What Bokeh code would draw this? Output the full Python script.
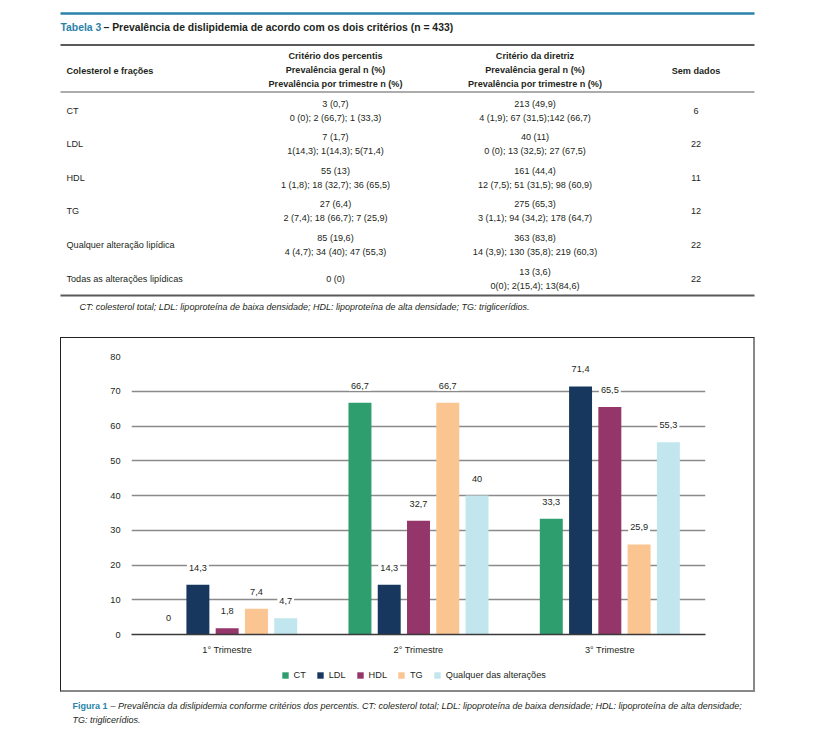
from bokeh.plotting import figure
from bokeh.models import Range1d, FactorRange, ColumnDataSource, Legend, LegendItem, Spacer
from bokeh.layouts import column, row
from bokeh.transform import dodge
from bokeh.core.properties import value
from bokeh.embed import file_html
from bokeh.resources import INLINE

FONT = "Liberation Sans"
INK = "#231f20"
TEAL = "#2a82aa"
BODY = "9.1px"

# ---------------- chart data ----------------
trimestres = ["1° Trimestre", "2° Trimestre", "3° Trimestre"]
series = ["CT", "LDL", "HDL", "TG", "Qualquer das alterações"]
ct = [0, 66.7, 33.3]
ldl = [14.3, 14.3, 71.4]
hdl = [1.8, 32.7, 65.5]
tg = [7.4, 66.7, 25.9]
qualquer = [4.7, 40, 55.3]
colors = ["#2f9e6f", "#17375e", "#94366a", "#fac590", "#c2e6ee"]
y_ticks = [0, 10, 20, 30, 40, 50, 60, 70, 80]

# ---------------- table data ----------------
table_num = "Tabela 3"
table_title = "– Prevalência de dislipidemia de acordo com os dois critérios (n = 433)"
header_col1 = "Colesterol e frações"
header_col2 = ["Critério dos percentis", "Prevalência geral n (%)", "Prevalência por trimestre n (%)"]
header_col3 = ["Critério da diretriz", "Prevalência geral n (%)", "Prevalência por trimestre n (%)"]
header_col4 = "Sem dados"
row_labels = ["CT", "LDL", "HDL", "TG", "Qualquer alteração lipídica", "Todas as alterações lipídicas"]
percentis_geral = ["3 (0,7)", "7 (1,7)", "55 (13)", "27 (6,4)", "85 (19,6)", "0 (0)"]
percentis_trim = ["0 (0); 2 (66,7); 1 (33,3)", "1(14,3); 1(14,3); 5(71,4)",
                  "1 (1,8); 18 (32,7); 36 (65,5)", "2 (7,4); 18 (66,7); 7 (25,9)",
                  "4 (4,7); 34 (40); 47 (55,3)", ""]
diretriz_geral = ["213 (49,9)", "40 (11)", "161 (44,4)", "275 (65,3)", "363 (83,8)", "13 (3,6)"]
diretriz_trim = ["4 (1,9); 67 (31,5);142 (66,7)", "0 (0); 13 (32,5); 27 (67,5)",
                 "12 (7,5); 51 (31,5); 98 (60,9)", "3 (1,1); 94 (34,2); 178 (64,7)",
                 "14 (3,9); 130 (35,8); 219 (60,3)", "0(0); 2(15,4); 13(84,6)"]
sem_dados = ["6", "22", "11", "12", "22", "22"]
footnote = ("CT: colesterol total; LDL: lipoproteína de baixa densidade; "
            "HDL: lipoproteína de alta densidade; TG: triglicerídios.")
caption_num = "Figura 1"
caption_line1 = ("– Prevalência da dislipidemia conforme critérios dos percentis. CT: colesterol total; "
                 "LDL: lipoproteína de baixa densidade; HDL: lipoproteína de alta densidade;")
caption_line2 = "TG: triglicerídios."


def txt(fig, x, y, s, size=BODY, align="left", style="normal", color=INK):
    fig.text(x=[x], y=[y], text=[s], text_font=value(FONT), text_font_size=size,
             text_font_style=style, text_align=align, text_baseline="middle", text_color=color)


def bare(fig):
    fig.outline_line_color = None
    fig.grid.visible = False


# ---------------- table figure (page pixel coordinates) ----------------
tab = figure(width=803, height=337, x_range=Range1d(0, 803), y_range=Range1d(337, 0),
             output_backend="svg", toolbar_location=None, x_axis_type=None, y_axis_type=None,
             min_border=0)
bare(tab)

L, R = 60, 754
tab.segment(x0=[L], x1=[R], y0=[13], y1=[13], line_color=TEAL, line_width=2.5)
tab.segment(x0=[L], x1=[R], y0=[44.5], y1=[44.5], line_color="#5a5a5a", line_width=1.8)
tab.segment(x0=[L], x1=[R], y0=[91.5], y1=[91.5], line_color="#5a5a5a", line_width=1.2)
tab.segment(x0=[L], x1=[R], y0=[295], y1=[295], line_color="#5a5a5a", line_width=1.8)

txt(tab, 60, 27, table_num, size="10.4px", style="bold", color=TEAL)
txt(tab, 103, 27, table_title, size="10.4px", style="bold")

C1, C2, C3, C4 = 66, 335, 534.5, 695.5
txt(tab, C1, 70, header_col1, style="bold")
for k, (a, b) in enumerate(zip(header_col2, header_col3)):
    txt(tab, C2, 55.5 + 13.8 * k, a, align="center", style="bold")
    txt(tab, C3, 55.5 + 13.8 * k, b, align="center", style="bold")
txt(tab, C4, 70, header_col4, align="center", style="bold")

for i, lab in enumerate(row_labels):
    rc = 110 + i * 33.65
    txt(tab, C1, rc, lab)
    if percentis_trim[i]:
        txt(tab, C2, rc - 7, percentis_geral[i], align="center")
        txt(tab, C2, rc + 7, percentis_trim[i], align="center")
    else:
        txt(tab, C2, rc, percentis_geral[i], align="center")
    txt(tab, C3, rc - 7, diretriz_geral[i], align="center")
    txt(tab, C3, rc + 7, diretriz_trim[i], align="center")
    txt(tab, C4, rc, sem_dados[i], align="center")

txt(tab, 79, 306, footnote, size="9px", style="italic")

# ---------------- bar chart ----------------
keys = ["CT", "LDL", "HDL", "TG", "Q"]
data = dict(tri=trimestres, CT=ct, LDL=ldl, HDL=hdl, TG=tg, Q=qualquer)
for k in keys:
    data[k + "_lab"] = [f"{v:g}".replace(".", ",") for v in data[k]]
src = ColumnDataSource(data)

p = figure(width=692, height=322, x_range=FactorRange(*trimestres), y_range=Range1d(0, 80),
           output_backend="svg", toolbar_location=None,
           min_border_left=70, min_border_right=48, min_border_top=18, min_border_bottom=26)
p.outline_line_color = None
p.xgrid.grid_line_color = None
p.ygrid.grid_line_color = "#8a8a8a"
p.ygrid.grid_line_width = 1.5

offsets = [-0.306, -0.153, 0.0, 0.153, 0.306]
for k, off, col in zip(keys, offsets, colors):
    p.vbar(x=dodge("tri", off, range=p.x_range), top=k, width=0.12, source=src,
           fill_color=col, line_color=None)
    p.text(x=dodge("tri", off, range=p.x_range), y=k, text=k + "_lab", source=src,
           y_offset=-17, text_align="center", text_baseline="middle",
           text_font=value(FONT), text_font_size="9.2px", text_color=INK,
           background_fill_color="white", padding=2)

p.yaxis.ticker = y_ticks
p.yaxis.axis_line_color = None
p.yaxis.major_tick_line_color = None
p.yaxis.minor_tick_line_color = None
p.yaxis.major_tick_out = 0
p.yaxis.minor_tick_out = 0
p.yaxis.major_label_standoff = 11
p.yaxis.major_label_text_font = FONT
p.yaxis.major_label_text_font_size = "9.2px"
p.yaxis.major_label_text_color = INK

p.xaxis.axis_line_color = "#3a3a3a"
p.xaxis.axis_line_width = 1.5
p.xaxis.major_tick_line_color = None
p.xaxis.minor_tick_line_color = None
p.xaxis.major_tick_out = 0
p.xaxis.minor_tick_out = 0
p.xaxis.major_label_standoff = 10
p.xaxis.major_label_text_font = FONT
p.xaxis.major_label_text_font_size = "9.2px"
p.xaxis.major_label_text_color = INK

# ---------------- legend strip (inside the same box) ----------------
lg = figure(width=692, height=30, x_range=Range1d(0, 1), y_range=Range1d(0, 1),
            output_backend="svg", toolbar_location=None, x_axis_type=None, y_axis_type=None,
            min_border=0)
bare(lg)
items = []
for name, col in zip(series, colors):
    # zero-height proxy bars: only their legend swatches are seen
    r = lg.vbar(x=[0.5], top=[0], bottom=[0], width=0.01, fill_color=col, line_color=None)
    items.append(LegendItem(label=name, renderers=[r]))
legend = Legend(items=items, orientation="horizontal", location=(149.5, 9.5), margin=0, padding=0,
                glyph_width=8, glyph_height=8, label_standoff=5, spacing=10,
                label_width=0, label_height=12,
                label_text_font=FONT, label_text_font_size="9.2px", label_text_color=INK,
                border_line_color=None, background_fill_alpha=0)
lg.add_layout(legend)

box = column(p, lg, spacing=0)
box.styles = {"border-left": "1.5px solid #222", "border-top": "1.5px solid #222",
              "border-right": "2.5px solid #888", "border-bottom": "2.5px solid #888"}

# ---------------- caption ----------------
cap = figure(width=803, height=45, x_range=Range1d(0, 803), y_range=Range1d(738, 693),
             output_backend="svg", toolbar_location=None, x_axis_type=None, y_axis_type=None,
             min_border=0)
bare(cap)
txt(cap, 72, 706.5, caption_num, size="9px", style="bold", color=TEAL)
txt(cap, 110, 706.5, caption_line1, size="9px", style="italic")
txt(cap, 72, 720, caption_line2, size="9px", style="italic")

page = column(tab, row(Spacer(width=60, height=352), box), cap)
open("out.html", "w").write(file_html(page, INLINE))
